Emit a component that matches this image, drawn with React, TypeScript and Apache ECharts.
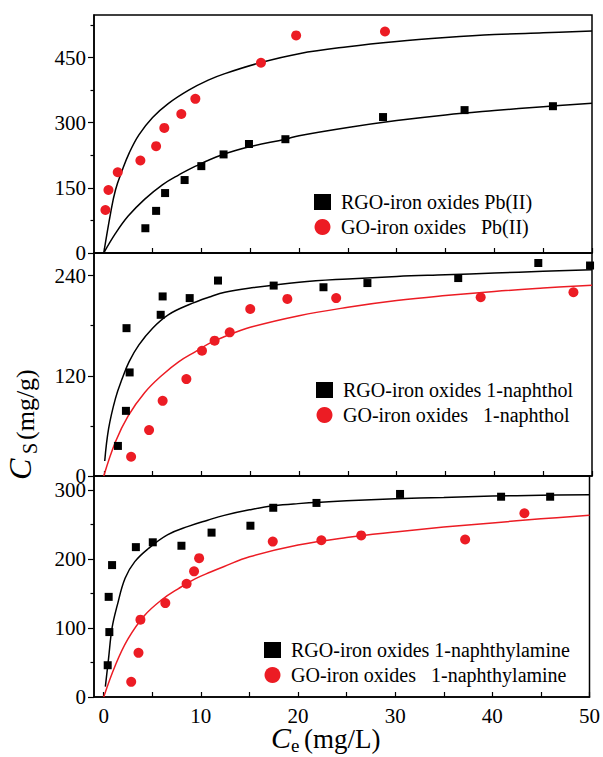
import React, { useEffect, useRef } from 'react';
import * as echarts from 'echarts';

// ---------- tick values ----------
const xTickValues = [0, 5, 10, 15, 20, 25, 30, 35, 40, 45, 50];
const xLabelValues = [0, 10, 20, 30, 40, 50];
const y1Major = [0, 150, 300, 450];
const y1Minor = [75, 225, 375, 525];
const y2Major = [0, 120, 240];
const y2Minor = [60, 180];
const y3Major = [0, 100, 200, 300];
const y3Minor = [50, 150, 250];

// ---------- names ----------
const pbRgoName = 'RGO-iron oxides Pb(II)';
const pbGoName = 'GO-iron oxides   Pb(II)';
const olRgoName = 'RGO-iron oxides 1-naphthol';
const olGoName = 'GO-iron oxides   1-naphthol';
const amRgoName = 'RGO-iron oxides 1-naphthylamine';
const amGoName = 'GO-iron oxides   1-naphthylamine';

// ---------- panel 1 : Pb(II) ----------
const pbRgoPoints = [[4.26, 57], [5.36, 97], [6.28, 138], [8.28, 168], [9.99, 200], [12.27, 227], [14.87, 251], [18.6, 262], [28.6, 313], [36.95, 329], [46.0, 338]];
const pbGoPoints = [[0.17, 99], [0.48, 145], [1.43, 186], [3.75, 213], [5.36, 246], [6.2, 288], [7.94, 320], [9.38, 355], [16.1, 438], [19.7, 501], [28.8, 510]];
const pbRgoFit = [[0, 0], [1.2, 45], [2.5, 85], [4.2, 124], [6, 157], [7.7, 180], [9.4, 200], [12, 225], [15, 245], [18.6, 262], [20, 270], [25, 289], [30, 305], [35, 318], [40, 328], [45, 337], [50, 345]];
const pbGoFit = [[0, 0], [0.7, 92], [1.2, 145], [1.9, 191], [2.6, 230], [3.6, 272], [5, 312], [6.6, 344], [8.7, 375], [10.7, 398], [12.4, 413], [16, 438], [20, 459], [25, 475], [30, 487], [35, 496], [40, 503], [45, 507], [50, 511]];

// ---------- panel 2 : 1-naphthol ----------
const olRgoPoints = [[1.45, 36], [2.27, 78], [2.65, 124], [2.33, 177], [5.83, 193], [6.03, 215], [8.8, 213], [11.7, 234], [17.4, 228], [22.5, 226], [27.0, 231], [36.3, 237], [44.5, 255], [49.8, 252]];
const olGoPoints = [[2.8, 23], [4.64, 55], [6.03, 90], [8.46, 116], [10.06, 150], [11.35, 162], [12.9, 172], [15.0, 200], [18.8, 212], [23.8, 213], [38.6, 214], [48.1, 220]];
const olRgoFit = [[0.1, 18], [0.5, 57], [1.2, 93], [1.9, 117], [2.6, 137], [3.6, 157], [5, 177], [6.6, 193], [8.7, 205], [11, 215], [12.4, 220], [15, 225], [20, 232], [25, 236], [30, 239], [35, 241], [40, 243], [45, 245], [50, 247]];
const olGoFit = [[0, 0], [1.2, 41], [2.5, 72], [4.2, 100], [6, 121], [7.7, 137], [9.4, 149], [11, 160], [12.4, 167], [15, 178], [20, 192], [25, 202], [30, 210], [35, 216], [40, 221], [45, 225], [50, 228.5]];

// ---------- panel 3 : 1-naphthylamine ----------
const amRgoPoints = [[0.41, 46], [0.58, 94], [0.51, 145], [0.86, 191], [3.31, 217], [5.05, 224], [8.0, 219], [11.1, 238], [15.1, 248], [17.45, 274], [21.9, 281], [30.5, 294], [40.9, 290], [45.95, 290]];
const amGoPoints = [[2.83, 22], [3.58, 64], [3.78, 112], [6.34, 136], [8.53, 164], [9.3, 182], [9.82, 201], [17.4, 225], [22.4, 227], [26.5, 234], [37.2, 228], [43.3, 266]];
const amRgoFit = [[0.17, 15], [0.5, 56], [0.86, 100], [1.4, 133], [2.2, 172], [3.2, 196], [4.6, 215], [6.6, 235], [8.7, 247], [10.7, 256], [12.4, 263], [15, 271], [17.5, 277], [20, 280], [25, 284], [30, 287], [35, 289], [40, 291], [45, 292], [50, 293]];
const amGoFit = [[0, 0], [1.2, 46], [2.5, 84], [4.2, 118], [6, 141], [7.7, 157], [9.4, 171], [11, 181], [12.4, 189], [15, 203], [20, 220], [25, 231], [30, 239], [35, 246], [40, 252], [45, 258], [50, 263]];

const RED = '#ec1c24';
const BLACK = '#000000';
const FONT = 'Liberation Serif';

const grids = [
  { top: 15, height: 238, ymax: 548, major: y1Major, minor: y1Minor },
  { top: 253, height: 223, ymax: 267, major: y2Major, minor: y2Minor },
  { top: 476, height: 221, ymax: 320, major: y3Major, minor: y3Minor },
];

export default function App() {
  const ref = useRef<HTMLDivElement>(null);
  useEffect(() => {
    if (!ref.current) return;
    const chart = echarts.init(ref.current, undefined, { renderer: 'svg' });

    const grid = grids.map((g) => ({
      left: 94, width: 498, top: g.top, height: g.height,
      show: true, borderColor: BLACK, borderWidth: 1.5, backgroundColor: 'transparent',
    }));

    const xAxis = grids.map((g, i) => ({
      type: 'value', gridIndex: i, min: -1, max: 50,
      axisLine: { onZero: false, lineStyle: { color: BLACK, width: 1.5 } },
      axisTick: { inside: true, length: 5, customValues: xTickValues, lineStyle: { color: BLACK, width: 1.2 } },
      axisLabel: {
        show: i === 2, customValues: xLabelValues, margin: 8,
        fontFamily: FONT, fontSize: 21, color: BLACK,
      },
      splitLine: { show: false },
    }));

    const yAxisMain = grids.map((g, i) => ({
      type: 'value', gridIndex: i, min: 0, max: g.ymax, position: 'left',
      axisLine: { onZero: false, lineStyle: { color: BLACK, width: 1.5 } },
      axisTick: { inside: false, length: 6, customValues: g.major, lineStyle: { color: BLACK, width: 1.2 } },
      axisLabel: { customValues: g.major, margin: 8, fontFamily: FONT, fontSize: 21, color: BLACK },
      splitLine: { show: false },
    }));
    const yAxisMinor = grids.map((g, i) => ({
      type: 'value', gridIndex: i, min: 0, max: g.ymax, position: 'left',
      axisLine: { show: false, onZero: false },
      axisTick: { inside: false, length: 3.5, customValues: g.minor, lineStyle: { color: BLACK, width: 1.2 } },
      axisLabel: { show: false },
      splitLine: { show: false },
    }));

    const fit = (name: string, data: number[][], idx: number, color: string) => ({
      name, type: 'line', data, xAxisIndex: idx, yAxisIndex: idx,
      showSymbol: false, symbol: 'none', smooth: 0.4,
      lineStyle: { color, width: 1.5 }, z: 2, silent: true,
    });
    const pts = (name: string, data: number[][], idx: number, symbol: string, size: number, color: string) => ({
      name, type: 'scatter', data, xAxisIndex: idx, yAxisIndex: idx,
      symbol, symbolSize: size, itemStyle: { color, opacity: 1 }, z: 3,
    });

    const legendBase = {
      orient: 'vertical', itemWidth: 17, itemHeight: 16, itemGap: 5, padding: 0,
      textStyle: { fontFamily: FONT, fontSize: 20, color: BLACK, padding: [0, 0, 0, 5] },
      selectedMode: false,
    };

    chart.setOption({
      animation: false,
      backgroundColor: '#fff',
      grid,
      xAxis,
      yAxis: [...yAxisMain, ...yAxisMinor],
      legend: [
        { ...legendBase, left: 314, top: 192, data: [{ name: pbRgoName, icon: 'rect' }, { name: pbGoName, icon: 'circle' }] },
        { ...legendBase, left: 316, top: 380, data: [{ name: olRgoName, icon: 'rect' }, { name: olGoName, icon: 'circle' }] },
        { ...legendBase, left: 264, top: 640, data: [{ name: amRgoName, icon: 'rect' }, { name: amGoName, icon: 'circle' }] },
      ],
      series: [
        fit('fit-pb-rgo', pbRgoFit, 0, BLACK),
        fit('fit-pb-go', pbGoFit, 0, BLACK),
        pts(pbRgoName, pbRgoPoints, 0, 'rect', 8, BLACK),
        pts(pbGoName, pbGoPoints, 0, 'circle', 10, RED),
        fit('fit-ol-rgo', olRgoFit, 1, BLACK),
        fit('fit-ol-go', olGoFit, 1, RED),
        pts(olRgoName, olRgoPoints, 1, 'rect', 8, BLACK),
        pts(olGoName, olGoPoints, 1, 'circle', 10, RED),
        fit('fit-am-rgo', amRgoFit, 2, BLACK),
        fit('fit-am-go', amGoFit, 2, RED),
        pts(amRgoName, amRgoPoints, 2, 'rect', 8, BLACK),
        pts(amGoName, amGoPoints, 2, 'circle', 10, RED),
      ],
      graphic: [
        // x axis title
        { type: 'text', left: 271, top: 722, style: { text: 'C', fontFamily: FONT, fontSize: 30, fontStyle: 'italic', fill: BLACK } },
        { type: 'text', left: 291, top: 736, style: { text: 'e', fontFamily: FONT, fontSize: 19, fill: BLACK } },
        { type: 'text', left: 304, top: 725, style: { text: '(mg/L)', fontFamily: FONT, fontSize: 27, fill: BLACK } },
        // y axis title (rotated)
        {
          type: 'group', x: 24, y: 480, rotation: Math.PI / 2,
          children: [
            { type: 'text', x: 0, y: -4, style: { text: 'C', fontFamily: FONT, fontSize: 32, fontStyle: 'italic', fill: BLACK, align: 'left', verticalAlign: 'middle' } },
            { type: 'text', x: 26, y: 6, style: { text: 'S', fontFamily: FONT, fontSize: 20, fill: BLACK, align: 'left', verticalAlign: 'middle' } },
            { type: 'text', x: 40, y: 1, style: { text: '(mg/g)', fontFamily: FONT, fontSize: 26, fill: BLACK, align: 'left', verticalAlign: 'middle' } },
          ],
        },
      ],
    });
    return () => chart.dispose();
  }, []);
  return <div ref={ref} style={{ position: 'fixed', left: 0, top: 0, width: 603, height: 757 }} />;
}
